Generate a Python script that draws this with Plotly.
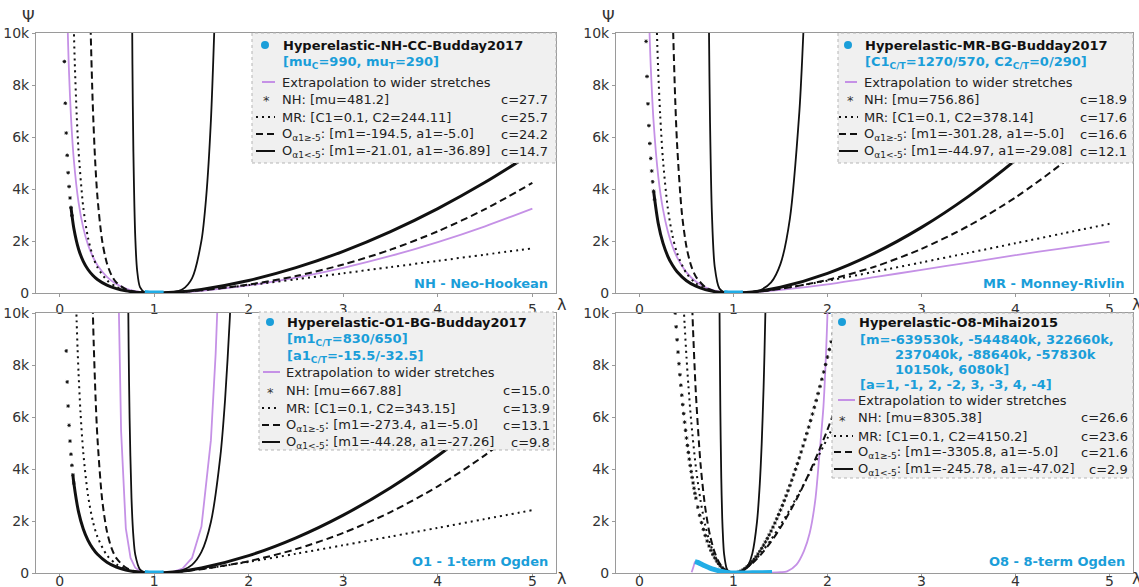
import plotly.graph_objects as go

# ---------------- DATA ----------------
# Panel A : Hyperelastic-NH-CC-Budday2017
A_ext_x = [0.08, 0.09, 0.1, 0.12, 0.15, 0.2, 0.25, 0.3, 0.35, 0.4, 0.5, 0.6, 0.7, 0.8, 0.9, 1.0, 1.2, 1.5, 2.0, 2.5, 3.0, 3.5, 4.0, 4.5, 5.0]
A_ext_y = [10893, 9519, 8420, 6772, 5126, 3485, 2506, 1860, 1404, 1069, 619, 343, 172, 69, 16, 0, 15, 85, 290, 587, 967, 1424, 1958, 2566, 3248]
A_nhpt_x = [0.05, 0.06, 0.07, 0.08, 0.09, 0.1, 0.11, 0.12, 0.13]
A_nhpt_y = [8902, 7298, 6153, 5295, 4626, 4093, 3655, 3292, 2984]
A_nh_x = [0.12, 0.15, 0.2, 0.25, 0.3, 0.35, 0.4, 0.5, 0.6, 0.7, 0.8, 0.9, 1.0, 1.2, 1.5, 2.0, 2.5, 3.0, 3.5, 4.0, 4.5, 5.0]
A_nh_y = [3292, 2492, 1694, 1218, 904, 683, 520, 301, 167, 83, 34, 8, 0, 26, 140, 481, 974, 1604, 2363, 3248, 4257, 5389]
A_mr_x = [0.14, 0.15, 0.16, 0.18, 0.2, 0.25, 0.3, 0.35, 0.4, 0.5, 0.6, 0.7, 0.8, 0.9, 1.0, 1.2, 1.5, 2.0, 2.5, 3.0, 3.5, 4.0, 4.5, 5.0]
A_mr_y = [11790, 10190, 8881, 6889, 5468, 3296, 2127, 1431, 989, 488, 239, 108, 40, 8, 0, 23, 108, 305, 527, 760, 996, 1236, 1477, 1719]
A_o5_x = [0.32, 0.33, 0.35, 0.375, 0.4, 0.45, 0.5, 0.55, 0.6, 0.7, 0.8, 0.9, 1.0, 1.2, 1.5, 2.0, 2.5, 3.0, 3.5, 4.0, 4.5, 5.0]
A_o5_y = [11480, 9826, 7295, 5135, 3690, 2002, 1142, 674, 405, 147, 47, 9, 0, 22, 103, 325, 652, 1096, 1666, 2373, 3225, 4233]
A_om_x = [0.76, 0.77, 0.78, 0.8, 0.82, 0.85, 0.9, 0.95, 1.0, 1.05, 1.1, 1.2, 1.3, 1.4, 1.5, 1.55, 1.6, 1.65]
A_om_y = [14215, 8770, 5447, 2141, 860, 227, 26, 2.5, 0, 1.2, 4.9, 31, 142, 563, 2014, 3690, 6633, 11700]
A_dat_x = [0.9, 0.925, 0.95, 0.975, 1.0, 1.025, 1.05, 1.075, 1.1]
A_dat_y = [16, 8, 4, 1, 0, 0.3, 1, 2.5, 4]

# Panel B : Hyperelastic-MR-BG-Budday2017
B_ext_x = [0.1, 0.11, 0.12, 0.15, 0.2, 0.25, 0.3, 0.35, 0.4, 0.5, 0.6, 0.7, 0.8, 0.9, 1.0, 1.2, 1.5, 2.0, 2.5, 3.0, 3.5, 4.0, 4.5, 5.0]
B_ext_y = [10800, 9648, 8687, 6576, 4470, 3215, 2386, 1801, 1372, 794, 440, 220, 89, 20, 0, 25, 120, 335, 610, 890, 1170, 1455, 1720, 1980]
B_nhpt_x = [0.07, 0.08, 0.09, 0.1, 0.11, 0.12, 0.13, 0.14, 0.15, 0.16]
B_nhpt_y = [9678, 8328, 7277, 6437, 5750, 5177, 4693, 4278, 3919, 3605]
B_nh_x = [0.15, 0.2, 0.25, 0.3, 0.35, 0.4, 0.5, 0.6, 0.7, 0.8, 0.9, 1.0, 1.2, 1.5, 2.0, 2.5, 3.0, 3.5, 4.0, 4.5, 5.0]
B_nh_y = [3919, 2664, 1916, 1422, 1074, 817, 473, 262, 131, 53, 12, 0, 40, 221, 757, 1533, 2523, 3717, 5109, 6696, 8477]
B_mr_x = [0.17, 0.18, 0.19, 0.2, 0.22, 0.25, 0.3, 0.35, 0.4, 0.5, 0.6, 0.7, 0.8, 0.9, 1.0, 1.2, 1.5, 2.0, 2.5, 3.0, 3.5, 4.0, 4.5, 5.0]
B_mr_y = [12079, 10671, 9484, 8470, 6845, 5105, 3294, 2217, 1531, 756, 370, 167, 61, 13, 0, 36, 168, 473, 817, 1176, 1544, 1914, 2287, 2662]
B_o5_x = [0.35, 0.36, 0.38, 0.4, 0.45, 0.5, 0.55, 0.6, 0.7, 0.8, 0.9, 1.0, 1.2, 1.5, 2.0, 2.5, 3.0, 3.5, 4.0, 4.5, 5.0]
B_o5_y = [11298, 9794, 7434, 5716, 3101, 1769, 1044, 628, 227, 72, 14, 0, 34, 159, 503, 1010, 1698, 2581, 3676, 4996, 6556]
B_om_x = [0.73, 0.74, 0.75, 0.77, 0.8, 0.85, 0.9, 0.95, 1.0, 1.05, 1.1, 1.2, 1.3, 1.4, 1.5, 1.6, 1.7, 1.73, 1.75]
B_om_y = [14580, 9813, 6643, 3090, 1017, 170, 29, 3.7, 0, 2, 7.8, 39, 136, 407, 1119, 2865, 6936, 8940, 10570]
B_dat_x = [0.9, 0.925, 0.95, 0.975, 1.0, 1.025, 1.05, 1.075, 1.1]
B_dat_y = [20, 9, 4, 1, 0, 0.5, 2, 4, 7]

# Panel C : Hyperelastic-O1-BG-Budday2017
C_ext_x = [0.62, 0.63, 0.65, 0.7, 0.75, 0.8, 0.85, 0.9, 0.95, 1.0, 1.05, 1.1, 1.2, 1.3, 1.4, 1.5, 1.6, 1.65, 1.68]
C_ext_y = [11390, 8893, 5471, 1719, 578, 201, 69, 21, 4, 0, 2, 8, 44, 171, 579, 1785, 5109, 8421, 11285]
C_nhpt_x = [0.07, 0.08, 0.09, 0.1, 0.11, 0.12, 0.13, 0.14, 0.15]
C_nhpt_y = [8541, 7349, 6422, 5680, 5074, 4569, 4141, 3775, 3458]
C_nh_x = [0.14, 0.15, 0.2, 0.25, 0.3, 0.35, 0.4, 0.5, 0.6, 0.7, 0.8, 0.9, 1.0, 1.2, 1.5, 2.0, 2.5, 3.0, 3.5, 4.0, 4.5, 5.0]
C_nh_y = [3775, 3458, 2351, 1691, 1255, 947, 721, 417, 231, 116, 47, 11, 0, 36, 195, 668, 1352, 2226, 3280, 4508, 5909, 7480]
C_mr_x = [0.16, 0.17, 0.18, 0.19, 0.2, 0.22, 0.25, 0.3, 0.35, 0.4, 0.5, 0.6, 0.7, 0.8, 0.9, 1.0, 1.2, 1.5, 2.0, 2.5, 3.0, 3.5, 4.0, 4.5, 5.0]
C_mr_y = [12484, 10960, 9684, 8606, 7687, 6211, 4633, 2989, 2012, 1390, 686, 336, 151, 56, 12, 0, 32, 152, 429, 741, 1068, 1401, 1737, 2076, 2416]
C_o5_x = [0.35, 0.36, 0.38, 0.4, 0.45, 0.5, 0.55, 0.6, 0.7, 0.8, 0.9, 1.0, 1.2, 1.5, 2.0, 2.5, 3.0, 3.5, 4.0, 4.5, 5.0]
C_o5_y = [10252, 8886, 6748, 5187, 2814, 1605, 947, 570, 206, 65, 13, 0, 30, 145, 456, 917, 1541, 2342, 3335, 4534, 5949]
C_om_x = [0.72, 0.73, 0.74, 0.76, 0.78, 0.8, 0.85, 0.9, 0.95, 1.0, 1.05, 1.1, 1.2, 1.3, 1.4, 1.5, 1.6, 1.7, 1.75, 1.8, 1.82]
C_om_y = [12576, 8632, 5963, 2883, 1416, 708, 132, 25, 3.3, 0, 1.9, 7.2, 34, 111, 314, 811, 1962, 4493, 6675, 9797, 11390]
C_dat_x = [0.9, 0.925, 0.95, 0.975, 1.0, 1.025, 1.05, 1.075, 1.1]
C_dat_y = [20, 9, 4, 1, 0, 0.5, 2, 4, 8]

# Panel D : Hyperelastic-O8-Mihai2015
D_ext_x = [0.555, 0.575, 0.593, 0.62, 0.66, 0.7, 0.75, 0.8, 0.85, 0.9, 0.95, 1.0, 1.1, 1.2, 1.3, 1.4, 1.5, 1.57, 1.67, 1.75, 1.81, 1.87, 1.915, 1.957, 1.983, 2.0, 2.02]
D_ext_y = [30, 250, 440, 410, 340, 270, 190, 130, 80, 40, 10, 0, 0, 5, 10, 15, 30, 64, 321, 850, 1526, 2800, 4600, 6410, 8330, 10000, 12500]
D_nh_x = [0.38, 0.39, 0.40, 0.41, 0.42, 0.43, 0.44, 0.45, 0.46, 0.47, 0.48, 0.49, 0.50, 0.51, 0.52, 0.53, 0.54, 0.55,
          0.56, 0.57, 0.58, 0.59, 0.60, 0.62, 0.64, 0.66, 0.68, 0.70, 0.72, 0.74, 0.76, 0.78, 0.80, 0.82, 0.84, 0.86,
          0.88, 0.90, 0.92, 0.94, 0.96, 0.98, 1.00, 1.02, 1.04, 1.06, 1.08, 1.10, 1.12, 1.14, 1.16, 1.18, 1.20, 1.22,
          1.24, 1.26, 1.28, 1.30, 1.32, 1.34, 1.36, 1.38, 1.40, 1.42, 1.44, 1.46, 1.48, 1.50, 1.52, 1.54, 1.56, 1.58,
          1.60, 1.62, 1.64, 1.66, 1.68, 1.70, 1.72, 1.74, 1.76, 1.78, 1.80, 1.82, 1.84, 1.86, 1.88, 1.90, 1.92, 1.94,
          1.96, 1.98, 2.00, 2.02, 2.04, 2.06, 2.08, 2.10, 2.12]
D_nh_y = [9998, 9469, 8970, 8497, 8049, 7625, 7222, 6839, 6477, 6130, 5802, 5489, 5191, 4907, 4637, 4379, 4133, 3899,
          3675, 3462, 3259, 3064, 2879, 2534, 2220, 1935, 1676, 1441, 1230, 1039, 869, 716, 581, 463, 360, 271,
          196, 134, 84, 47, 20, 5, 0, 5, 20, 43, 76, 117, 167, 224, 290, 363, 443, 530,
          625, 726, 834, 949, 1070, 1196, 1330, 1469, 1614, 1764, 1921, 2083, 2250, 2422, 2600, 2784, 2972, 3165,
          3364, 3567, 3775, 3988, 4206, 4429, 4656, 4888, 5124, 5365, 5611, 5861, 6115, 6374, 6637, 6904, 7176, 7452,
          7732, 8017, 8305, 8598, 8895, 9196, 9501, 9810, 10124]
D_mr_x = [0.45, 0.47, 0.48, 0.5, 0.52, 0.55, 0.6, 0.65, 0.7, 0.75, 0.8, 0.85, 0.9, 0.95, 1.0, 1.05, 1.1, 1.2, 1.3, 1.4, 1.5, 1.6, 1.7, 1.8, 1.9, 2.0, 2.2, 2.5]
D_mr_y = [11779, 10239, 9545, 8300, 7214, 5835, 4059, 2768, 1830, 1153, 674, 349, 144, 33, 0, 29, 110, 392, 796, 1287, 1844, 2451, 3096, 3771, 4470, 5188, 6668, 8964]
D_o5_x = [0.55, 0.56, 0.57, 0.6, 0.65, 0.7, 0.75, 0.8, 0.85, 0.9, 0.95, 1.0, 1.05, 1.1, 1.2, 1.3, 1.4, 1.5, 1.6, 1.7, 1.8, 1.9, 2.0, 2.2, 2.4]
D_o5_y = [11451, 10334, 9329, 6889, 4166, 2493, 1447, 791, 387, 152, 34, 0, 28, 105, 368, 743, 1206, 1747, 2361, 3045, 3800, 4623, 5517, 7522, 9825]
D_om_x = [0.84, 0.85, 0.86, 0.87, 0.88, 0.89, 0.9, 0.93, 0.96, 1.0, 1.04, 1.08, 1.12, 1.16, 1.2, 1.25, 1.28, 1.3, 1.32, 1.33, 1.34]
D_om_y = [19000, 10880, 6270, 3649, 2117, 1253, 726, 145, 24, 0, 11.4, 48, 134, 327, 744, 1969, 3449, 4975, 7125, 8520, 10162]
D_dat_x = [0.59, 0.62, 0.66, 0.7, 0.75, 0.8, 0.85, 0.9, 0.95, 1.0, 1.1, 1.2, 1.3, 1.41]
D_dat_y = [440, 410, 340, 270, 190, 130, 80, 40, 10, 0, 0, 5, 10, 15]

# tick labels
X_TICKS = [0, 1, 2, 3, 4, 5]
Y_TICKS = [0, 2000, 4000, 6000, 8000, 10000]
Y_TICKTEXT = ["0", "2k", "4k", "6k", "8k", "10k"]

# legend texts
LEG_TITLES = ["Hyperelastic-NH-CC-Budday2017", "Hyperelastic-MR-BG-Budday2017",
              "Hyperelastic-O1-BG-Budday2017", "Hyperelastic-O8-Mihai2015"]
LEG_PARAMS = [["[mu<sub>C</sub>=990, mu<sub>T</sub>=290]"],
              ["[C1<sub>C/T</sub>=1270/570, C2<sub>C/T</sub>=0/290]"],
              ["[m1<sub>C/T</sub>=830/650]", "[a1<sub>C/T</sub>=-15.5/-32.5]"],
              ["[m=-639530k, -544840k, 322660k,", "237040k, -88640k, -57830k", "10150k, 6080k]",
               "[a=1, -1, 2, -2, 3, -3, 4, -4]"]]
LEG_NH = ["NH: [mu=481.2]", "NH: [mu=756.86]", "NH: [mu=667.88]", "NH: [mu=8305.38]"]
LEG_MR = ["MR: [C1=0.1, C2=244.11]", "MR: [C1=0.1, C2=378.14]", "MR: [C1=0.1, C2=343.15]", "MR: [C1=0.1, C2=4150.2]"]
LEG_O5 = ["[m1=-194.5, a1=-5.0]", "[m1=-301.28, a1=-5.0]", "[m1=-273.4, a1=-5.0]", "[m1=-3305.8, a1=-5.0]"]
LEG_OM = ["[m1=-21.01, a1=-36.89]", "[m1=-44.97, a1=-29.08]", "[m1=-44.28, a1=-27.26]", "[m1=-245.78, a1=-47.02]"]
LEG_C = [["c=27.7", "c=25.7", "c=24.2", "c=14.7"], ["c=18.9", "c=17.6", "c=16.6", "c=12.1"],
         ["c=15.0", "c=13.9", "c=13.1", "c=9.8"], ["c=26.6", "c=23.6", "c=21.6", "c=2.9"]]
PANEL_NAMES = ["NH - Neo-Hookean", "MR - Monney-Rivlin", "O1 - 1-term Ogden", "O8 - 8-term Ogden"]

# ---------------- STYLE / LAYOUT ----------------
W, H = 1139, 587
ML, MRG, MT, MB = 36, 6, 33, 14
PW = W - ML - MRG
PH = H - MT - MB
FONT = "DejaVu Sans"
CYAN = "#1a9ed9"
DATA_C = "#22ade6"
PURPLE = "#c591e6"
BLACK = "#111111"
GREY = "#9a9a9a"


def fx(p):  # page pixel -> paper
    return (p - ML) / PW


def fy(p):
    return 1 - (p - MT) / PH


fig = go.Figure()

panels = [
    dict(ax="", ext=(A_ext_x, A_ext_y), nhpt=(A_nhpt_x, A_nhpt_y), nh=(A_nh_x, A_nh_y), mr=(A_mr_x, A_mr_y),
         o5=(A_o5_x, A_o5_y), om=(A_om_x, A_om_y), dat=(A_dat_x, A_dat_y), ext_shape="spline"),
    dict(ax="2", ext=(B_ext_x, B_ext_y), nhpt=(B_nhpt_x, B_nhpt_y), nh=(B_nh_x, B_nh_y), mr=(B_mr_x, B_mr_y),
         o5=(B_o5_x, B_o5_y), om=(B_om_x, B_om_y), dat=(B_dat_x, B_dat_y), ext_shape="spline"),
    dict(ax="3", ext=(C_ext_x, C_ext_y), nhpt=(C_nhpt_x, C_nhpt_y), nh=(C_nh_x, C_nh_y), mr=(C_mr_x, C_mr_y),
         o5=(C_o5_x, C_o5_y), om=(C_om_x, C_om_y), dat=(C_dat_x, C_dat_y), ext_shape="linear"),
    dict(ax="4", ext=(D_ext_x, D_ext_y), nhpt=(D_nh_x, D_nh_y), nh=None, mr=(D_mr_x, D_mr_y),
         o5=(D_o5_x, D_o5_y), om=(D_om_x, D_om_y), dat=(D_dat_x, D_dat_y), ext_shape="spline"),
]


def line(xy, ax, color, width, dash="solid", shape="spline"):
    fig.add_trace(go.Scatter(x=xy[0], y=xy[1], mode="lines", xaxis="x" + ax, yaxis="y" + ax,
                             line=dict(color=color, width=width, dash=dash, shape=shape, smoothing=0.8),
                             showlegend=False, hoverinfo="skip"))


for p in panels:
    ax = p["ax"]
    line(p["ext"], ax, PURPLE, 1.8, shape=p["ext_shape"])
    line(p["mr"], ax, BLACK, 2, dash="2px,4px")
    line(p["o5"], ax, BLACK, 2, dash="7px,4px")
    if p["nh"] is not None:
        line(p["nh"], ax, BLACK, 3)
    fig.add_trace(go.Scatter(x=p["nhpt"][0], y=p["nhpt"][1], mode="markers", xaxis="x" + ax, yaxis="y" + ax,
                             marker=dict(symbol="asterisk-open", size=3, color=BLACK, line=dict(width=1, color=BLACK)),
                             showlegend=False, hoverinfo="skip"))
    line(p["om"], ax, BLACK, 1.8)
    line(p["dat"], ax, DATA_C, 5)

# axes (page pixel boxes)
xdoms = [[fx(36), fx(556)], [fx(616), 1], [fx(36), fx(556)], [fx(616), 1]]
ydoms = [[fy(293), 1], [fy(293), 1], [0, fy(313)], [0, fy(313)]]
standoffs = [0, 0, -8, -8]
common = dict(showline=True, linecolor=GREY, linewidth=1, mirror=True, ticks="outside", ticklen=3,
              tickcolor=GREY, showgrid=False, zeroline=False, tickfont=dict(family=FONT, size=14, color="#333"))
layout_axes = {}
for i, p in enumerate(panels):
    ax = p["ax"]
    layout_axes["xaxis" + ax] = dict(domain=xdoms[i], range=[-0.25, 5.25], tickvals=X_TICKS,
                                     anchor="y" + ax, ticklabelstandoff=standoffs[i], **common)
    layout_axes["yaxis" + ax] = dict(domain=ydoms[i], range=[0, 10000], tickvals=Y_TICKS,
                                     ticktext=Y_TICKTEXT, anchor="x" + ax, **common)

annotations = []
shapes = []


def ann(text, xp, yp, size=13, color="#222", xanchor="left", bold=False):
    annotations.append(dict(text=("<b>%s</b>" % text) if bold else text, x=fx(xp), y=fy(yp),
                            xref="paper", yref="paper", xanchor=xanchor, yanchor="middle",
                            showarrow=False, font=dict(family=FONT, size=size, color=color)))


def hline(x0, x1, y, color, width, dash="solid"):
    shapes.append(dict(type="line", xref="paper", yref="paper", x0=fx(x0), x1=fx(x1), y0=fy(y), y1=fy(y),
                       line=dict(color=color, width=width, dash=dash), layer="above"))


# legend geometry per panel (page pixel layout)
LEG_GEOM = [
    dict(box=(252, 33, 556, 163), dot=265, tx=280, ptx=[281], sym=(256, 275), ext=(262, 275), star=266,
         cr=550, rows=[45, 62, 82, 99, 117, 134, 151]),
    dict(box=(838, 33, 1133, 163), dot=848, tx=862, ptx=[863], sym=(839, 858), ext=(845, 857), star=850,
         cr=1129, rows=[45, 62, 82, 99, 117, 134, 151]),
    dict(box=(259, 312, 554, 450), dot=270, tx=284, ptx=[285, 285], sym=(262, 280), ext=(263, 280), star=270,
         cr=552, rows=[322, 339, 356, 372, 390, 408, 425, 442]),
    dict(box=(832, 313, 1133, 478), dot=842, tx=856, ptx=[858, 893, 893, 858], sym=(834, 853), ext=(838, 855),
         star=842, cr=1130, rows=[322, 339, 354, 369, 384, 400, 418, 436, 452, 469]),
]

for i, g in enumerate(LEG_GEOM):
    x0, y0, x1, y1 = g["box"]
    shapes.append(dict(type="rect", xref="paper", yref="paper", x0=fx(x0), x1=fx(x1), y0=fy(y1), y1=fy(y0),
                       fillcolor="#f0f0f0", line=dict(color="#b5b5b5", width=1, dash="dot"), layer="above"))
    rows = g["rows"]
    r = 4
    shapes.append(dict(type="circle", xref="paper", yref="paper", x0=fx(g["dot"] - r), x1=fx(g["dot"] + r),
                       y0=fy(rows[0] + r), y1=fy(rows[0] - r), fillcolor=CYAN, line=dict(width=0), layer="above"))
    ann(LEG_TITLES[i], g["tx"] + 1, rows[0], bold=True, color="#111")
    for k, ptxt in enumerate(LEG_PARAMS[i]):
        ann(ptxt, g["ptx"][k], rows[1 + k], bold=True, color=CYAN)
    n = len(LEG_PARAMS[i])
    ye, ynh, ymr, yo5, yom = rows[1 + n:6 + n]
    hline(g["ext"][0], g["ext"][1], ye, PURPLE, 2)
    ann("Extrapolation to wider stretches", g["tx"], ye)
    ann("*", g["star"], ynh + 2, xanchor="center", color="#333")
    ann(LEG_NH[i], g["tx"], ynh)
    hline(g["sym"][0], g["sym"][1], ymr, BLACK, 2, "2px,4px")
    ann(LEG_MR[i], g["tx"], ymr)
    hline(g["sym"][0], g["sym"][1], yo5, BLACK, 2, "7px,4px")
    ann("O<sub>α1≥-5</sub>: " + LEG_O5[i], g["tx"], yo5)
    hline(g["sym"][0], g["sym"][1], yom, BLACK, 2)
    ann("O<sub>α1&lt;-5</sub>: " + LEG_OM[i], g["tx"], yom)
    for k, yy in enumerate([ynh, ymr, yo5, yom]):
        ann(LEG_C[i][k], g["cr"], yy, xanchor="right")

# panel names
ann(PANEL_NAMES[0], 550, 283, bold=True, color=CYAN, xanchor="right")
ann(PANEL_NAMES[1], 1127, 283, bold=True, color=CYAN, xanchor="right")
ann(PANEL_NAMES[2], 550, 561, bold=True, color=CYAN, xanchor="right")
ann(PANEL_NAMES[3], 1127, 561, bold=True, color=CYAN, xanchor="right")

# axis labels
ann("Ψ", 28, 17, size=16, color="#333", xanchor="center")
ann("Ψ", 608, 17, size=16, color="#333", xanchor="center")
for (xl, yl) in [(561, 304), (1136, 304), (561, 578), (1136, 578)]:
    ann("λ", xl, yl, size=16, color="#333", xanchor="center")

fig.update_layout(width=W, height=H, margin=dict(l=ML, r=MRG, t=MT, b=MB, autoexpand=False),
                  paper_bgcolor="white", plot_bgcolor="white", showlegend=False,
                  font=dict(family=FONT, size=13, color="#222"),
                  annotations=annotations, shapes=shapes, **layout_axes)

# remove the default page margin so that the figure fills the window exactly
fig.write_html("out.html", config={"displayModeBar": False},
               post_script="document.body.style.margin='0px';document.body.style.overflow='hidden';")
